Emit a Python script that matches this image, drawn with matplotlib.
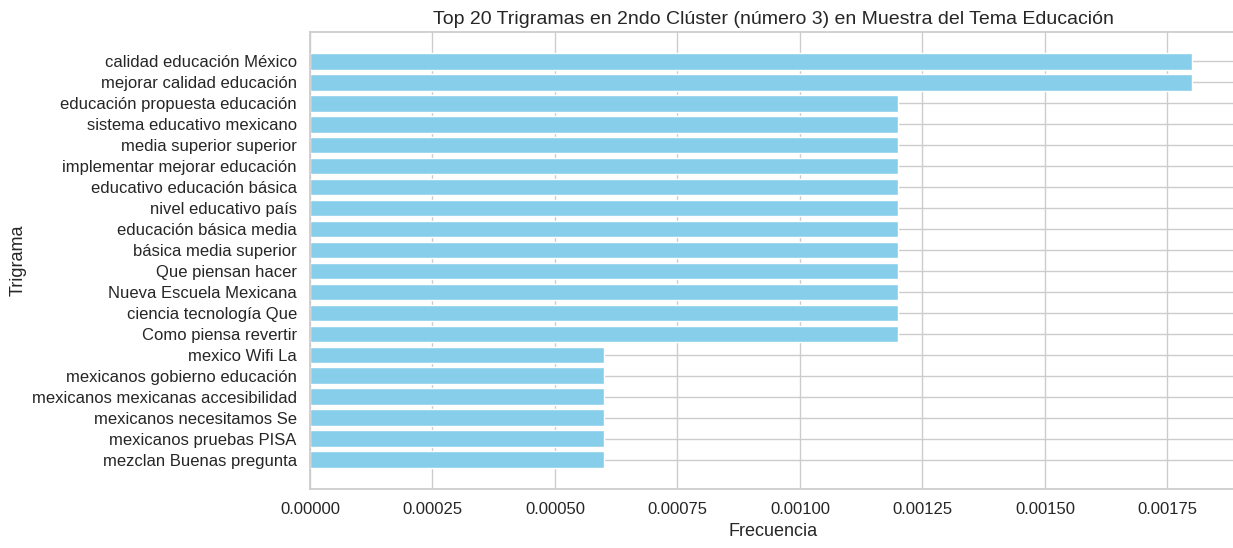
import matplotlib
matplotlib.use('Agg')
import matplotlib.pyplot as plt
import seaborn as sns

trigramas = ['calidad educación México', 'mejorar calidad educación',
             'educación propuesta educación', 'sistema educativo mexicano',
             'media superior superior', 'implementar mejorar educación',
             'educativo educación básica', 'nivel educativo país',
             'educación básica media', 'básica media superior',
             'Que piensan hacer', 'Nueva Escuela Mexicana',
             'ciencia tecnología Que', 'Como piensa revertir',
             'mexico Wifi La', 'mexicanos gobierno educación',
             'mexicanos mexicanas accesibilidad', 'mexicanos necesitamos Se',
             'mexicanos pruebas PISA', 'mezclan Buenas pregunta']
frecuencias = [0.0018, 0.0018,
               0.0012, 0.0012, 0.0012, 0.0012, 0.0012, 0.0012,
               0.0012, 0.0012, 0.0012, 0.0012, 0.0012, 0.0012,
               0.0006, 0.0006, 0.0006, 0.0006, 0.0006, 0.0006]

sns.set_theme(style='whitegrid')
plt.rcParams['font.family'] = ['Liberation Sans', 'DejaVu Sans']

fig = plt.figure(figsize=(12.33, 5.48), dpi=100)
ax = fig.add_subplot(111)
ax.barh(trigramas, frecuencias, color='skyblue')
ax.invert_yaxis()
ax.set_xlabel('Frecuencia', fontsize=13)
ax.set_ylabel('Trigrama', fontsize=13)
ax.set_title('Top 20 Trigramas en 2ndo Clúster (número 3) en Muestra del Tema Educación', fontsize=14)
ax.tick_params(labelsize=12)
ax.xaxis.set_major_formatter(matplotlib.ticker.FormatStrFormatter('%.5f'))
# the original image is cropped just before the right spine
fig.subplots_adjust(left=0.2514, right=1.0024, top=0.9416, bottom=0.1077)

plt.savefig('out.png', dpi=100)
